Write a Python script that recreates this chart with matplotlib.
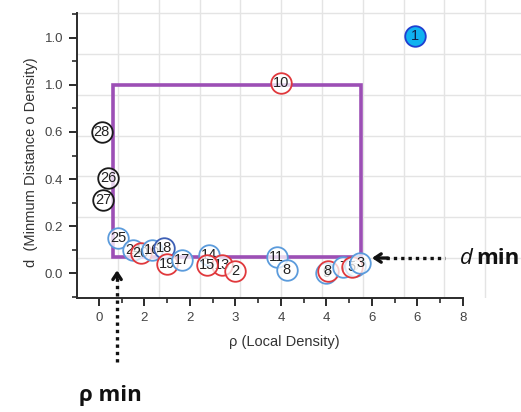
import matplotlib
matplotlib.use("Agg")
import matplotlib.pyplot as plt
from matplotlib.patches import Rectangle
from matplotlib.ticker import MultipleLocator
import numpy as np

plt.rcParams['font.family'] = ['Liberation Sans', 'DejaVu Sans']

# ---- data -------------------------------------------------------------
labels = ['28', '26', '27', '25', '24', '20', '16', '18', '19', '17',
          '14', '13', '15', '2', '11', '8', '9', '8', '7', '6', '5', '3',
          '10', '1']
rho = [0.06, 0.20, 0.10, 0.42, 0.75, 0.92, 1.16, 1.43, 1.49, 1.82,
       2.42, 2.70, 2.37, 2.99, 3.91, 4.13, 4.99, 5.03, 5.36, 5.62, 5.56, 5.74,
       4.00, 6.95]
delta = [0.60, 0.405, 0.31, 0.148, 0.098, 0.085, 0.098, 0.106, 0.038, 0.055,
         0.077, 0.034, 0.034, 0.009, 0.068, 0.013, 0.002, 0.009, 0.026, 0.030, 0.026, 0.043,
         0.81, 1.01]
group = ['k', 'k', 'k', 'b', 'b', 'r', 'b', 'db', 'r', 'b',
         'b', 'r', 'r', 'r', 'b', 'b', 'b', 'r', 'b', 'b', 'r', 'b',
         'r', 'c']

x_ticks = [0, 1, 2, 3, 4, 5, 6, 7, 8]
x_tick_labels = ['0', '2', '2', '3', '4', '4', '6', '6', '8']
y_ticks = [0.0, 0.2, 0.4, 0.6, 0.8, 1.0]
y_tick_labels = ['0.0', '0.2', '0.4', '0.6', '1.0', '1.0']

rho_min, rho_max = 0.31, 5.75
d_min, d_max = 0.07, 0.80

# ---- styling ----------------------------------------------------------
edge_colors = {'k': '#1a1a1a', 'b': '#5b9bdc', 'db': '#3d5fb5',
               'r': '#e0383c', 'c': '#1f3fd0'}
face_colors = {'k': (1, 1, 1, 0.75), 'b': (1, 1, 1, 0.75), 'db': (1, 1, 1, 0.75),
               'r': (1, 1, 1, 0.75), 'c': '#10b2f0'}
spine_col = '#2b2b2b'
tick_col = '#444444'
box_col = '#9c4fb5'

W, H = 521, 412
fig = plt.figure(figsize=(W / 100, H / 100), dpi=100)

# background lattice (sits behind the plotting area and runs past it)
bg = fig.add_axes([77 / W, 114 / H, (W - 77) / W, 298 / H], zorder=0)
bg.set_xlim(0, W - 77)
bg.set_ylim(0, 298)
step = 40.8
bg.set_xticks(np.arange(41, W - 77, step))
bg.set_yticks(np.arange(40, 298, step))
bg.grid(True, color='#e4e4e4', lw=1.0)
bg.tick_params(length=0, labelbottom=False, labelleft=False)
for s in bg.spines.values():
    s.set_visible(False)
bg.patch.set_alpha(0)

ax = fig.add_axes([77 / W, 114 / H, 386 / W, 285 / H], zorder=1)
ax.patch.set_alpha(0)
ax.set_xlim(-0.48, 8.0)
ax.set_ylim(-0.106, 1.106)

for side in ('top', 'right'):
    ax.spines[side].set_visible(False)
for side in ('left', 'bottom'):
    ax.spines[side].set_color(spine_col)
    ax.spines[side].set_linewidth(1.4)

ax.set_xticks(x_ticks)
ax.set_xticklabels(x_tick_labels)
ax.set_yticks(y_ticks)
ax.set_yticklabels(y_tick_labels)
ax.xaxis.set_minor_locator(MultipleLocator(0.5))
ax.yaxis.set_minor_locator(MultipleLocator(0.1))
ax.tick_params(which='major', direction='out', length=6, width=1.4,
               color=spine_col, labelsize=9.5, labelcolor=tick_col, pad=4)
ax.tick_params(which='minor', direction='out', length=3.5, width=1.2,
               color=spine_col)

ax.set_xlabel('ρ (Local Density)', fontsize=10.5, color='#333333')
ax.xaxis.set_label_coords(0.536, -0.13)
ax.set_ylabel('d  (Minmum Distance o Density)', fontsize=10.5, color='#333333')
ax.yaxis.set_label_coords(-0.10, 0.477)

# threshold box
ax.add_patch(Rectangle((rho_min, d_min), rho_max - rho_min, d_max - d_min,
                       fill=False, ec=box_col, lw=2.6, zorder=2))

# numbered points
for i, (lab, x, y, g) in enumerate(zip(labels, rho, delta, group)):
    z = 3 + i * 0.01
    ax.plot(x, y, marker='o', ms=14.8, mfc=face_colors[g], mec=edge_colors[g],
            mew=1.3, ls='none', zorder=z, clip_on=False)
    ax.text(x, y, lab, ha='center', va='center', fontsize=10.5,
            color='#222222' if g != 'c' else '#10204a', zorder=z + 0.001)

# rho-min marker arrow
arrow_x = 0.40
ax.plot([arrow_x, arrow_x], [-0.38, -0.005], ls=(0, (1, 1.2)), lw=2.4,
        color='#111111', clip_on=False, zorder=5)
ax.annotate('', xy=(arrow_x, 0.012), xytext=(arrow_x, -0.02),
            arrowprops=dict(arrowstyle='->,head_length=0.45,head_width=0.3',
                            lw=2.4, color='#111111', shrinkA=0, shrinkB=0),
            annotation_clip=False, zorder=5)
ax.text(arrow_x - 0.83, -0.52, 'ρ min', fontsize=16, fontweight='bold',
        family=['Open Sans', 'DejaVu Sans'], ha='left', va='center',
        color='#111111', clip_on=False)

# d-min marker arrow
arrow_y = 0.064
ax.plot([6.3, 7.6], [arrow_y, arrow_y], ls=(0, (1, 1.2)), lw=2.4,
        color='#111111', clip_on=False, zorder=5)
ax.annotate('', xy=(6.0, arrow_y), xytext=(6.35, arrow_y),
            arrowprops=dict(arrowstyle='->,head_length=0.45,head_width=0.3',
                            lw=2.4, color='#111111', shrinkA=0, shrinkB=0),
            annotation_clip=False, zorder=5)
ax.text(7.93, arrow_y, 'd', fontsize=16, fontstyle='italic',
        family=['Open Sans', 'DejaVu Sans'], ha='left', va='center',
        color='#111111', clip_on=False)
ax.text(8.3, arrow_y, 'min', fontsize=16, fontweight='bold',
        family=['Open Sans', 'DejaVu Sans'], ha='left', va='center',
        color='#111111', clip_on=False)

fig.savefig('out.png', dpi=100)
